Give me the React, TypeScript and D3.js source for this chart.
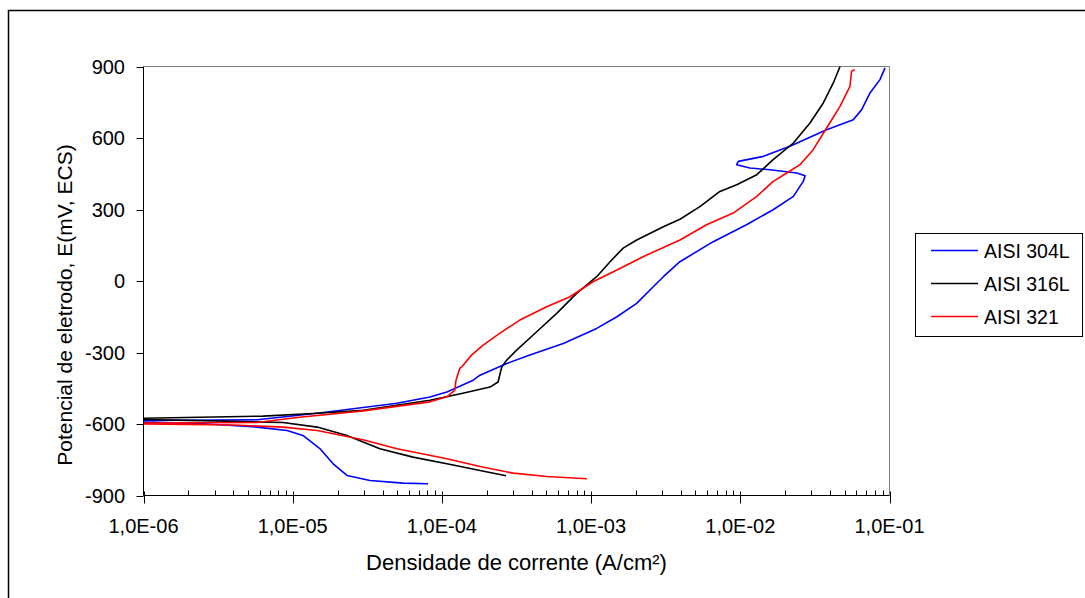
import React from "react";
import * as d3 from "d3";

// ---- data (current density A/cm², potential mV vs ECS) ----
const series = ["AISI 304L", "AISI 316L", "AISI 321"];
const colors = ["#0000FF", "#000000", "#FF0000"];

const i304: number[] = [8.07e-5, 5.49e-5, 3.3e-5, 2.31e-5, 1.86e-5, 1.52e-5, 1.17e-5, 9.16e-6, 5.77e-6, 2.39e-6, 1e-6,
  1e-6, 5.77e-6, 1.46e-5, 5.0e-5, 8.32e-5, 1.08e-4, 1.62e-4, 1.8e-4, 2.72e-4, 3.89e-4, 6.51e-4, 1.09e-3, 1.49e-3, 2.02e-3,
  2.61e-3, 3.05e-3, 3.94e-3, 6.58e-3, 1.1e-2, 1.66e-2, 2.27e-2, 2.64e-2, 2.72e-2, 2.39e-2, 1.58e-2, 1.16e-2, 9.46e-3,
  9.7e-3, 1.43e-2, 2.15e-2, 3.79e-2, 5.72e-2, 6.51e-2, 7.4e-2, 8.63e-2, 9.33e-2];
const e304: number[] = [-851, -848, -837, -816, -766, -703, -648, -627, -613, -598, -592,
  -585, -582, -555, -513, -487, -466, -416, -395, -346, -311, -262, -199, -150, -94,
  -24, 18, 81, 165, 236, 299, 355, 418, 442, 453, 467, 474, 488,
  502, 523, 565, 635, 677, 719, 789, 845, 894];

const i316: number[] = [2.69e-4, 1.8e-4, 1.08e-4, 6.4e-5, 3.84e-5, 2.31e-5, 1.46e-5, 8.61e-6, 3.5e-6, 1e-6,
  1e-6, 6.32e-6, 1.37e-5, 2.96e-5, 8.32e-5, 1.38e-4, 2.1e-4, 2.38e-4, 2.52e-4, 2.72e-4, 3.17e-4, 4.32e-4, 5.88e-4,
  8.0e-4, 1.09e-3, 1.34e-3, 1.64e-3, 2.02e-3, 3.05e-3, 3.94e-3, 5.36e-3, 7.3e-3, 9.46e-3, 1.29e-2, 1.66e-2, 2.27e-2,
  2.93e-2, 3.6e-2, 4.2e-2, 4.66e-2];
const e316: number[] = [-817, -795, -767, -739, -704, -648, -613, -594, -588, -581,
  -576, -567, -556, -543, -500, -471, -445, -424, -360, -332, -290, -213, -136,
  -52, 18, 81, 138, 172, 228, 259, 312, 376, 404, 446, 509, 579,
  663, 747, 831, 900];

const i321: number[] = [9.38e-4, 5.06e-4, 3.0e-4, 1.8e-4, 1.08e-4, 5.0e-5, 2.96e-5, 1.46e-5, 8.61e-6, 4.0e-6, 1e-6,
  1e-6, 5.77e-6, 1.07e-5, 2.96e-5, 8.32e-5, 1.08e-4, 1.22e-4, 1.24e-4, 1.28e-4, 1.32e-4, 1.36e-4, 1.58e-4, 1.88e-4,
  2.45e-4, 3.33e-4, 5.04e-4, 7.21e-4, 1.03e-3, 1.49e-3, 2.23e-3, 3.94e-3, 5.94e-3, 8.96e-3, 1.29e-2, 1.66e-2, 2.05e-2,
  2.51e-2, 3.08e-2, 3.79e-2, 4.66e-2, 5.43e-2, 5.57e-2, 5.86e-2];
const e321: number[] = [-830, -820, -806, -778, -746, -704, -666, -627, -613, -604, -600,
  -596, -594, -573, -545, -507, -486, -458, -420, -390, -366, -360, -311, -270,
  -219, -164, -108, -66, -3, 46, 102, 172, 236, 285, 355, 418, 453,
  488, 551, 642, 733, 817, 880, 887];

const xTicks = [1e-6, 1e-5, 1e-4, 1e-3, 1e-2, 1e-1];
const xTickLabels = ["1,0E-06", "1,0E-05", "1,0E-04", "1,0E-03", "1,0E-02", "1,0E-01"];
const yTicks = [-900, -600, -300, 0, 300, 600, 900];

const xTitle = "Densidade de corrente (A/cm²)";
const yTitle = "Potencial de eletrodo, E(mV, ECS)";

export default function App() {
  const W = 1085, H = 598;
  const left = 143.5, right = 889.5, top = 66.5, bottom = 495.5;
  const x = d3.scaleLog().domain([1e-6, 1e-1]).range([left, right]);
  const y = d3.scaleLinear().domain([-900, 900]).range([bottom, top]);
  const font = "'Liberation Sans', Arial, sans-serif";

  const data = [
    i304.map((v, k) => [v, e304[k]] as [number, number]),
    i316.map((v, k) => [v, e316[k]] as [number, number]),
    i321.map((v, k) => [v, e321[k]] as [number, number]),
  ];
  const line = d3.line<[number, number]>().x(d => x(d[0])).y(d => y(d[1]));

  const minor: number[] = [];
  for (let dec = -6; dec < -1; dec++) {
    for (let m = 2; m <= 9; m++) minor.push(m * Math.pow(10, dec));
  }

  const legX = 915.5, legY = 233.5, legW = 167, legH = 103;
  const legRows = [250.5, 283.5, 316.5];

  return (
    <div style={{ position: "absolute", left: 0, top: 0 }}>
      <svg width={W} height={H} style={{ display: "block", background: "#fff" }} fontFamily={font}>
        {/* outer chart frame */}
        <path d={`M8.5,${H} V10.5 H${W}`} fill="none" stroke="#000" strokeWidth={1.5} />
        {/* plot area border (gray) */}
        <path d={`M${left},${top} H${right} V${bottom}`} fill="none" stroke="#808080" strokeWidth={1} />
        <defs>
          <clipPath id="plotclip">
            <rect x={left} y={top - 2} width={right - left + 2} height={bottom - top + 4} />
          </clipPath>
        </defs>
        {/* curves */}
        <g clipPath="url(#plotclip)">
          {data.map((d, k) => (
            <path key={k} d={line(d) || ""} fill="none" stroke={colors[k]} strokeWidth={1.6} strokeLinejoin="round" />
          ))}
        </g>
        {/* axes */}
        <line x1={left} x2={left} y1={top} y2={bottom} stroke="#000" strokeWidth={1} />
        <line x1={left} x2={right} y1={bottom} y2={bottom} stroke="#000" strokeWidth={1} />
        {yTicks.map(t => (
          <g key={t}>
            <line x1={left - 7} x2={left} y1={Math.round(y(t)) + 0.5} y2={Math.round(y(t)) + 0.5} stroke="#000" />
            <text x={125} y={y(t)} dy="0.36em" textAnchor="end" fontSize={20}>{t}</text>
          </g>
        ))}
        {minor.map((t, k) => (
          <line key={k} x1={Math.round(x(t)) + 0.5} x2={Math.round(x(t)) + 0.5} y1={bottom - 5} y2={bottom} stroke="#000" />
        ))}
        {xTicks.map((t, k) => (
          <g key={t}>
            <line x1={Math.round(x(t)) + 0.5} x2={Math.round(x(t)) + 0.5} y1={bottom - 4} y2={bottom + 8} stroke="#000" />
            <text x={x(t)} y={533} textAnchor="middle" fontSize={20}>{xTickLabels[k]}</text>
          </g>
        ))}
        {/* axis titles */}
        <text x={(left + right) / 2} y={570} textAnchor="middle" fontSize={22}>{xTitle}</text>
        <text transform={`translate(72,305) rotate(-90)`} textAnchor="middle" fontSize={21}>{yTitle}</text>
        {/* legend */}
        <rect x={legX} y={legY} width={legW} height={legH} fill="#fff" stroke="#000" strokeWidth={1} />
        {series.map((s, k) => (
          <g key={s}>
            <line x1={931} x2={978} y1={legRows[k]} y2={legRows[k]} stroke={colors[k]} strokeWidth={1.6} />
            <text x={984} y={legRows[k]} dy="0.36em" fontSize={19.5}>{s}</text>
          </g>
        ))}
      </svg>
    </div>
  );
}
